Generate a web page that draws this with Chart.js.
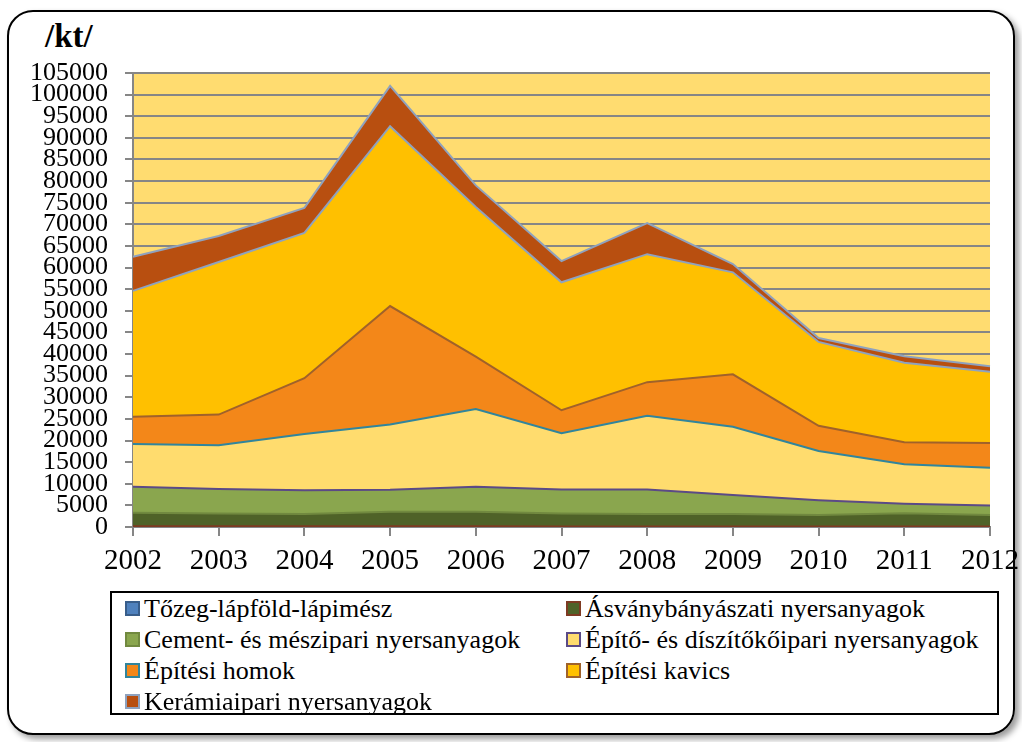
<!DOCTYPE html>
<html>
<head>
<meta charset="utf-8">
<script src="https://cdn.jsdelivr.net/npm/chart.js"></script>
<style>
  body { margin: 0; background: #fff; font-family: 'Liberation Serif', 'Times New Roman', serif; }
  .frame {
    position: absolute; left: 7px; top: 10px; width: 1004px; height: 721px;
    border: 2px solid #000; border-radius: 26px;
    box-shadow: 4px 4px 6px #9a9a9a;
  }
  .unit { position: absolute; left: 45px; top: 18px; font-size: 33px; font-weight: bold; }
  .wrap { position: absolute; left: 0; top: 0; width: 1022px; height: 742px; }
  .legend {
    position: absolute; left: 110px; top: 591px; width: 885px; height: 120px;
    border: 2px solid #000; background: #fff;
  }
  .legend-item { position: absolute; font-size: 26px; line-height: 30px; white-space: nowrap; color: #000; }
  .legend-item span {
    display: inline-block; width: 11px; height: 11px; border: 2px solid; margin-right: 4px;
    vertical-align: 1px;
  }
</style>
</head>
<body>
<div class="frame"></div>
<div class="unit">/kt/</div>
<div class="wrap"><canvas id="myChart"></canvas></div>
<div class="legend" id="legend"></div>
<script>
const years = ['2002', '2003', '2004', '2005', '2006', '2007', '2008', '2009', '2010', '2011', '2012'];

const seriesNames = [
  'Tőzeg-lápföld-lápimész',
  'Ásványbányászati nyersanyagok',
  'Cement- és mészipari nyersanyagok',
  'Építő- és díszítőkőipari nyersanyagok',
  'Építési homok',
  'Építési kavics',
  'Kerámiaipari nyersanyagok',
];

// kt, bottom to top of the stack
const tozeg = [200, 150, 150, 150, 150, 100, 100, 100, 100, 100, 100];
const asvany = [3100, 2950, 2850, 3350, 3350, 3000, 2900, 2900, 2700, 3100, 2700];
const cement = [6000, 5700, 5500, 5100, 5800, 5600, 5700, 4400, 3400, 2200, 2200];
const epito = [9900, 10100, 13000, 15100, 18000, 13000, 17000, 15800, 11400, 9100, 8700];
const homok = [6300, 7100, 12900, 27400, 12100, 5300, 7800, 12100, 5800, 5100, 5700];
const kavics = [29100, 35300, 33600, 41600, 34600, 29600, 29600, 23600, 19400, 18400, 16500];
const keramia = [7900, 6000, 5800, 9300, 5000, 4900, 7200, 1900, 900, 1500, 1300];

const seriesValues = [tozeg, asvany, cement, epito, homok, kavics, keramia];

const fillColors = ['#4F81BD', '#4F6228', '#8AA64E', '#FFDC6E', '#F38719', '#FFC000', '#B84F10'];
const edgeColors = ['#385D8A', '#7E3A22', '#71893F', '#5B4A86', '#31859C', '#A0622A', '#8FA2BE'];

const fontFamily = "'Liberation Serif', 'Times New Roman', serif";

const plotBg = {
  id: 'plotBg',
  beforeDraw(chart) {
    const a = chart.chartArea;
    chart.ctx.save();
    chart.ctx.fillStyle = '#FFDC70';
    chart.ctx.fillRect(a.left, a.top, a.right - a.left, a.bottom - a.top);
    chart.ctx.restore();
  },
};

const datasets = seriesNames.map(function(name, i) {
  // the visible edge on top of each band is the outline of the band above it
  const lineColor = i < seriesNames.length - 1 ? edgeColors[i + 1] : edgeColors[i];
  return {
    label: name,
    data: seriesValues[i],
    backgroundColor: fillColors[i],
    borderColor: lineColor,
    borderWidth: 2,
    pointRadius: 0,
    tension: 0,
    fill: i === 0 ? 'origin' : '-1',
  };
});

const ctx = document.getElementById('myChart').getContext('2d');

// eslint-disable-next-line
const chart = new Chart(ctx, {
  type: 'line',
  data: { labels: years, datasets: datasets },
  plugins: [plotBg],
  options: {
    responsive: true,
    maintainAspectRatio: false,
    animation: false,
    layout: { padding: { left: 0, top: 73, right: 32, bottom: 170 } },
    plugins: { legend: { display: false }, tooltip: { enabled: false } },
    scales: {
      x: {
        offset: false,
        grid: { drawOnChartArea: false, drawTicks: true, tickLength: 9, color: '#868686', lineWidth: 2 },
        border: { color: '#868686', width: 2 },
        ticks: { color: '#000', font: { family: fontFamily, size: 29 }, padding: 8, maxRotation: 0 },
        afterFit(scale) {
          scale.height = 45;
          scale.paddingLeft = 0;
          scale.paddingRight = 0;
        },
      },
      y: {
        stacked: true,
        min: 0,
        max: 105000,
        grid: { color: '#868686', lineWidth: 2, tickLength: 8 },
        border: { color: '#868686', width: 2 },
        ticks: {
          stepSize: 5000, autoSkip: false, color: '#000', padding: 17,
          font: { family: fontFamily, size: 26, lineHeight: 1 },
          callback: function(value) { return String(value); },
        },
        afterFit(scale) { scale.width = 133; },
      },
    },
  },
});

// legend in two columns, like the original
const legend = document.getElementById('legend');
seriesNames.forEach(function(name, i) {
  const item = document.createElement('div');
  item.className = 'legend-item';
  item.style.left = (i % 2 === 0 ? 13 : 454) + 'px';
  item.style.top = (1 + Math.floor(i / 2) * 31) + 'px';
  const box = document.createElement('span');
  box.style.background = fillColors[i];
  box.style.borderColor = edgeColors[i];
  item.appendChild(box);
  item.appendChild(document.createTextNode(name));
  legend.appendChild(item);
});
</script>
</body>
</html>
